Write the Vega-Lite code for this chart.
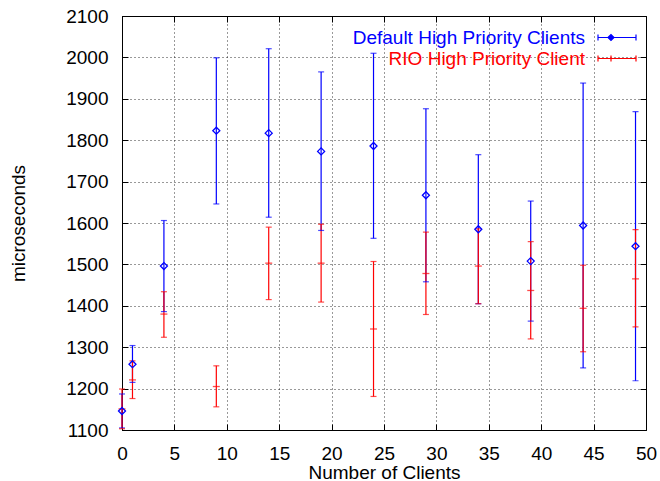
{
  "$schema": "https://vega.github.io/schema/vega-lite/v6.json",
  "width": 524,
  "height": 414,
  "autosize": {"type": "none"},
  "padding": {"left": 122, "top": 16, "right": 14, "bottom": 51},
  "background": "white",
  "config": {
    "font": "Liberation Sans",
    "view": {"stroke": "black", "strokeWidth": 1},
    "axis": {
      "labelFont": "Liberation Sans",
      "labelFontSize": 19,
      "labelColor": "black",
      "labelFlush": false,
      "labelOverlap": false,
      "titleFont": "Liberation Sans",
      "titleFontSize": 19,
      "titleFontWeight": "normal",
      "titleColor": "black",
      "domainColor": "black",
      "tickColor": "black",
      "tickSize": -6,
      "gridColor": "#000000",
      "gridDash": [1, 3],
      "gridOpacity": 0.8,
      "labelPadding": 20,
      "format": "d"
    },
    "legend": {
      "labelFont": "Liberation Sans",
      "labelFontSize": 19
    }
  },
  "data": {
    "values": [
      {"series": "Default High Priority Clients", "clients": 0, "mean": 1146, "low": 1105, "high": 1187},
      {"series": "Default High Priority Clients", "clients": 1, "mean": 1259, "low": 1215, "high": 1304},
      {"series": "Default High Priority Clients", "clients": 4, "mean": 1496, "low": 1386, "high": 1606},
      {"series": "Default High Priority Clients", "clients": 9, "mean": 1823, "low": 1646, "high": 1999},
      {"series": "Default High Priority Clients", "clients": 14, "mean": 1817, "low": 1614, "high": 2021},
      {"series": "Default High Priority Clients", "clients": 19, "mean": 1773, "low": 1582, "high": 1965},
      {"series": "Default High Priority Clients", "clients": 24, "mean": 1786, "low": 1563, "high": 2010},
      {"series": "Default High Priority Clients", "clients": 29, "mean": 1667, "low": 1458, "high": 1876},
      {"series": "Default High Priority Clients", "clients": 34, "mean": 1585, "low": 1405, "high": 1765},
      {"series": "Default High Priority Clients", "clients": 39, "mean": 1508, "low": 1363, "high": 1653},
      {"series": "Default High Priority Clients", "clients": 44, "mean": 1594, "low": 1250, "high": 1938},
      {"series": "Default High Priority Clients", "clients": 49, "mean": 1544, "low": 1219, "high": 1869},
      {"series": "RIO High Priority Client", "clients": 0, "mean": 1151, "low": 1103, "high": 1199},
      {"series": "RIO High Priority Client", "clients": 1, "mean": 1221, "low": 1176, "high": 1267},
      {"series": "RIO High Priority Client", "clients": 4, "mean": 1380, "low": 1324, "high": 1434},
      {"series": "RIO High Priority Client", "clients": 9, "mean": 1205, "low": 1156, "high": 1255},
      {"series": "RIO High Priority Client", "clients": 14, "mean": 1503, "low": 1415, "high": 1590},
      {"series": "RIO High Priority Client", "clients": 19, "mean": 1503, "low": 1409, "high": 1597},
      {"series": "RIO High Priority Client", "clients": 24, "mean": 1344, "low": 1181, "high": 1507},
      {"series": "RIO High Priority Client", "clients": 29, "mean": 1478, "low": 1379, "high": 1578},
      {"series": "RIO High Priority Client", "clients": 34, "mean": 1496, "low": 1405, "high": 1586},
      {"series": "RIO High Priority Client", "clients": 39, "mean": 1437, "low": 1320, "high": 1555},
      {"series": "RIO High Priority Client", "clients": 44, "mean": 1394, "low": 1289, "high": 1498},
      {"series": "RIO High Priority Client", "clients": 49, "mean": 1465, "low": 1349, "high": 1584}
    ]
  },
  "resolve": {"axis": {"x": "independent", "y": "independent"}},
  "layer": [
    {
      "mark": {"type": "rule", "strokeWidth": 1.2},
      "encoding": {
        "x": {"field": "clients", "type": "quantitative",
              "scale": {"domain": [0, 50], "nice": false},
              "axis": {"values": [0,5,10,15,20,25,30,35,40,45,50], "title": "Number of Clients", "titlePadding": 0, "grid": true}},
        "y": {"field": "low", "type": "quantitative",
              "scale": {"domain": [1100, 2100], "nice": false},
              "axis": {"values": [1100,1200,1300,1400,1500,1600,1700,1800,1900,2000,2100], "title": "microseconds", "titlePadding": 37, "grid": true}},
        "y2": {"field": "high"},
        "color": {"field": "series", "type": "nominal",
                  "scale": {"domain": ["Default High Priority Clients", "RIO High Priority Client"], "range": ["#0000ff", "#ff0000"]},
                  "legend": {
                    "title": null,
                    "orient": "none",
                    "legendX": 484,
                    "legendY": 12,
                    "padding": 0,
                    "rowPadding": 1,
                    "symbolSize": 100,
                    "labelAlign": "right",
                    "labelOffset": -40,
                    "labelLimit": 400,
                    "encode": {
                      "labels": {"update": {"fill": {"signal": "datum.value == 'RIO High Priority Client' ? '#ff0000' : '#0000ff'"}}},
                      "symbols": {"update": {
                        "shape": {"signal": "datum.value == 'RIO High Priority Client' ? 'M-3.5,0L4.1,0M-3.5,-0.6L-3.5,0.6M4.1,-0.6L4.1,0.6M-0.9,-0.6L-0.9,0.6' : 'M-3.5,0L4.1,0M-3.5,-0.6L-3.5,0.6M4.1,-0.6L4.1,0.6M-1.5,0L-0.9,-0.6L-0.3,0L-0.9,0.6Z'"},
                        "fill": {"value": "white"},
                        "strokeWidth": {"value": 1.2}
                      }}
                    }
                  }}
      }
    },
    {
      "mark": {"type": "tick", "orient": "horizontal", "size": 6, "thickness": 1.2},
      "encoding": {
        "x": {"field": "clients", "type": "quantitative",
              "axis": {"orient": "top", "values": [0,5,10,15,20,25,30,35,40,45,50], "labels": false, "title": null, "grid": false, "domain": false}},
        "y": {"field": "low", "type": "quantitative",
              "axis": {"orient": "right", "values": [1100,1200,1300,1400,1500,1600,1700,1800,1900,2000,2100], "labels": false, "title": null, "grid": false, "domain": false}},
        "color": {"field": "series", "type": "nominal"}
      }
    },
    {
      "mark": {"type": "tick", "orient": "horizontal", "size": 6, "thickness": 1.2},
      "encoding": {
        "x": {"field": "clients", "type": "quantitative", "axis": null},
        "y": {"field": "high", "type": "quantitative", "axis": null},
        "color": {"field": "series", "type": "nominal"}
      }
    },
    {
      "transform": [{"filter": "datum.series == 'RIO High Priority Client'"}],
      "mark": {"type": "tick", "orient": "horizontal", "size": 7, "thickness": 1.3},
      "encoding": {
        "x": {"field": "clients", "type": "quantitative", "axis": null},
        "y": {"field": "mean", "type": "quantitative", "axis": null},
        "color": {"field": "series", "type": "nominal"}
      }
    },
    {
      "transform": [{"filter": "datum.series == 'Default High Priority Clients'"}],
      "mark": {"type": "point", "shape": "diamond", "filled": false, "size": 49, "strokeWidth": 1.3, "opacity": 1},
      "encoding": {
        "x": {"field": "clients", "type": "quantitative", "axis": null},
        "y": {"field": "mean", "type": "quantitative", "axis": null},
        "color": {"field": "series", "type": "nominal"}
      }
    }
  ]
}
